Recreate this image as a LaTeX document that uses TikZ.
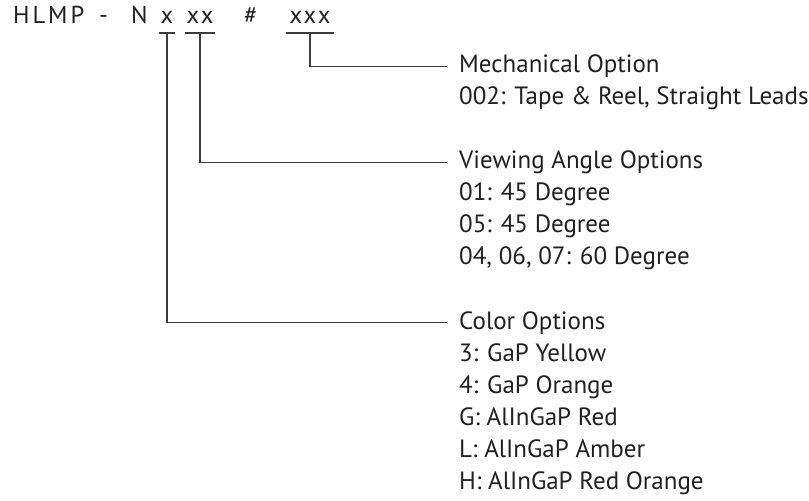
\documentclass[tikz,border=0pt]{standalone}
\usepackage{fontspec}
\setmainfont{PT Sans}
\definecolor{txt}{HTML}{231F20}
\definecolor{ln}{HTML}{3C3C3C}
\begin{document}
\begin{tikzpicture}[x=1bp,y=-1bp,
  lbl/.style={anchor=base west,inner sep=0,text=txt,font=\fontsize{25bp}{32bp}\selectfont},
  hdr/.style={anchor=base west,inner sep=0,text=txt,font=\fontsize{24.5bp}{28bp}\selectfont\addfontfeature{LetterSpace=12}},
  grp/.style={inner sep=0,text=txt,anchor=south,text depth=9bp,font=\fontsize{24.5bp}{28bp}\selectfont\addfontfeature{LetterSpace=8}},
  conn/.style={draw=ln,line width=1.3bp},
]
\useasboundingbox (0,0) rectangle (809,501);
% header
\node[hdr] (hlmp) at (13,24) {HLMP};
\node[hdr] (dash) at (99,24) {-};
\node[hdr] (n) at (131,24) {N};
\node[hdr] (hash) at (244,24) {\#};
\node[grp,minimum width=16bp] (g1) at (167,33) {x};
\node[grp,minimum width=30bp] (g2) at (200,33) {xx};
\node[grp,minimum width=48bp] (g3) at (310,33) {xxx};
\draw[conn] (g1.south west) -- (g1.south east);
\draw[conn] (g2.south west) -- (g2.south east);
\draw[conn] (g3.south west) -- (g3.south east);
% labels
\node[lbl] (mech) at (459,73) {Mechanical Option};
\node[lbl] (m1) at (459,105) {002: Tape \& Reel, Straight Leads};
\node[lbl] (view) at (459,169) {Viewing Angle Options};
\node[lbl] (v1) at (459,201) {01: 45 Degree};
\node[lbl] (v2) at (459,233) {05: 45 Degree};
\node[lbl] (v3) at (459,265) {04, 06, 07: 60 Degree};
\node[lbl] (color) at (459,329) {Color Options};
\node[lbl] (c1) at (459,361) {3: GaP Yellow};
\node[lbl] (c2) at (459,393) {4: GaP Orange};
\node[lbl] (c3) at (459,425) {G: AlInGaP Red};
\node[lbl] (c4) at (459,457) {L: AlInGaP Amber};
\node[lbl] (c5) at (459,489) {H: AlInGaP Red Orange};
% connectors
\draw[conn] (g3.south) |- ([xshift=-12bp]mech.west);
\draw[conn] (g2.south) |- ([xshift=-12bp]view.west);
\draw[conn] (g1.south) |- ([xshift=-12bp]color.west);
\end{tikzpicture}
\end{document}
